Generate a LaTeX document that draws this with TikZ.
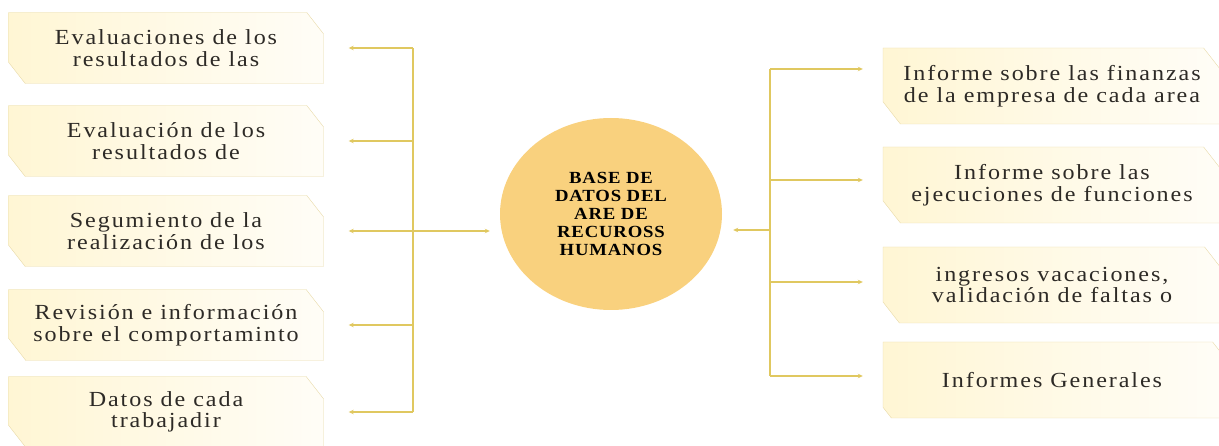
\documentclass[tikz,border=0pt]{standalone}
\usepackage{fontspec}
\setmainfont{Liberation Serif}
\newfontfamily\boxfont[FakeStretch=1.12, LetterSpace=9]{Liberation Serif}
\newfontfamily\hubfont[FakeStretch=1.1, LetterSpace=5]{Liberation Serif}
\usetikzlibrary{arrows.meta,positioning,calc,shapes.geometric,shapes.misc}
\definecolor{linkcolor}{RGB}{224,200,96}
\definecolor{boxline}{RGB}{232,218,168}
\definecolor{boxfill}{RGB}{255,253,247}
\definecolor{boxside}{RGB}{255,246,212}
\definecolor{hubfill}{RGB}{249,209,126}
\definecolor{txtcolor}{RGB}{45,42,38}

\begin{document}
\begin{tikzpicture}[x=1pt, y=-1pt,
      every node/.style={text=txtcolor},
      cutbox/.style={chamfered rectangle, chamfered rectangle corners={north east,south west},
        chamfered rectangle xsep=15pt, chamfered rectangle angle=38,
        draw=boxline, left color=boxside, right color=boxfill, inner sep=0pt,
        align=center, font=\boxfont\fontsize{21.5}{21.5}\selectfont},
      lbox/.style={cutbox, minimum width=315pt, minimum height=71pt},
      rbox/.style={cutbox, minimum width=338pt, minimum height=76pt},
      hub/.style={ellipse, fill=hubfill, minimum width=222pt, minimum height=192pt, inner sep=0pt,
        align=center, text=black, font=\hubfont\bfseries\fontsize{17}{18.2}\selectfont},
      link/.style={draw=linkcolor, line width=1.2pt, -{Stealth[length=5pt,width=4.5pt]}},
      trunk/.style={draw=linkcolor, line width=1.4pt}
    ]
    \useasboundingbox (0,0) rectangle (1219,446);
    % left column
    \foreach \i/\y/\txt in {1/48/{Evaluaciones de los\\resultados de las},
        2/141/{Evaluación de los\\resultados de},
        3/231/{Segumiento de la\\realización de los},
        4/325/{Revisión e información\\sobre el comportaminto},
        5/412/{Datos de cada\\trabajadir}} {
      \node[lbox] (b\i) at (166,\y) {\txt};
    }
    % right column
    \foreach \i/\y/\txt in {1/86/{Informe sobre las finanzas\\de la empresa de cada area},
        2/185/{Informe sobre las\\ejecuciones de funciones},
        3/285/{ingresos vacaciones,\\validación de faltas o},
        4/380/{Informes Generales}} {
      \node[rbox] (r\i) at (1052,\y) {\txt};
    }
    \node[hub] (hub) at (611,214) {BASE DE\\DATOS DEL\\ARE DE\\RECUROSS\\HUMANOS};

    \coordinate (lt) at (413,0);
    \coordinate (rt) at (770,0);
    \coordinate (rin) at (770,230);

    % left links
    \draw[trunk] (b1.east -| lt) -- (b5.east -| lt);
    \foreach \i in {1,...,5}
      \draw[link, shorten >=25pt] (b\i.east -| lt) -- (b\i.east);
    \draw[link, shorten >=10pt] (b3.east -| lt) -- (b3.east -| hub.west);

    % right links
    \draw[trunk] ([yshift=17pt]r1.west -| rt) -- ([yshift=4pt]r4.west -| rt);
    \foreach \i/\dy in {1/17, 2/5, 3/3, 4/4}
      \draw[link, shorten >=20pt] ([yshift=\dy pt]r\i.west -| rt) -- ([yshift=\dy pt]r\i.west);
    \draw[link, shorten >=11pt] (rin) -- (rin -| hub.east);
  \end{tikzpicture}
\end{document}
